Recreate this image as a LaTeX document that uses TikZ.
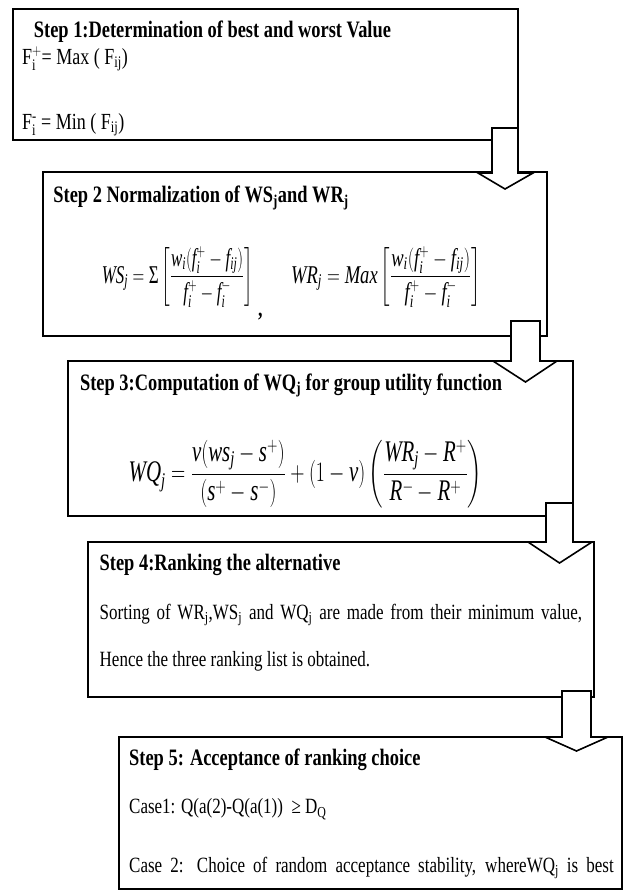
\documentclass[tikz,border=0pt]{standalone}
\usepackage{amsmath}
\usepackage{graphicx}
\usepackage{fontspec}
\setmainfont{Liberation Serif}
\newcommand{\mi}[1]{\mathit{#1}}
\newcommand{\vs}[1]{\scalebox{1}[1.28]{#1}}
\newcommand{\blockarrow}[8]{%
  \draw[blockarrow] (#1,#3) -- (#2,#3) -- (#2,#4) -- (#6,#4) -- (#7,#8) -- (#5,#4) -- (#1,#4) -- cycle;}
\begin{document}
\begin{tikzpicture}[x=1pt,y=-1pt,
  box/.style={draw=black, rectangle, inner sep=0pt, line width=1.8pt},
  ttl/.style={anchor=base west, inner sep=0pt, font=\fontsize{18.4}{20}\selectfont\bfseries},
  txt/.style={anchor=base west, inner sep=0pt, font=\fontsize{17}{20}\selectfont},
  eqn/.style={anchor=west, inner sep=0pt},
  blockarrow/.style={draw=black, fill=white, line width=1.6pt, line join=miter}]
\useasboundingbox (0,0) rectangle (625,892);

% boxes
\node[box, minimum width=505pt, minimum height=131pt] (b1) at (265.5,74.5) {};
\node[box, minimum width=504pt, minimum height=164pt] (b2) at (295,254) {};
\node[box, minimum width=505pt, minimum height=155pt] (b3) at (320.5,438.5) {};
\node[box, minimum width=506pt, minimum height=155pt] (b4) at (341,619.5) {};
\node[box, minimum width=503pt, minimum height=152pt] (b5) at (370.5,813) {};

% block arrows
\blockarrow{492}{518}{128}{173}{478}{533}{505}{189}
\blockarrow{511}{540}{321}{361}{493}{557}{525.5}{382}
\blockarrow{546}{573}{503}{542}{528}{592}{559.5}{563}
\blockarrow{562}{591}{691}{737}{545}{608}{576.5}{751}

% box 1
\node[ttl] (t1) at (33.7,37.5) {\vs{Step 1:Determination of best and worst Value}};
\node[txt, font=\fontsize{18}{20}\selectfont] (f1a) at (21.8,64) {\vs{$\mathrm{F}_{\mathrm{i}}^{+}$= Max ( F$_{\mathrm{ij}}$)}};
\node[txt, font=\fontsize{18}{20}\selectfont] (f1b) at (21.8,129.5) {\vs{$\mathrm{F}_{\mathrm{i}}^{\text{-}}$ = Min ( F$_{\mathrm{ij}}$)}};

% box 2
\node[ttl] (t2) at (53.2,202.8) {\vs{Step 2 Normalization of WS\textsubscript{j}and WR\textsubscript{j}}};
\node[eqn, font=\fontsize{18}{20}\selectfont] (e2a) at (101.7,277)
  {\scalebox{0.94}[1.42]{$\mi{WS}_{\mi{j}} = \text{Σ}\left[\dfrac{\mi{w}_{\mi{i}}(\mi{f}_{\mi{i}}^{+}-\mi{f}_{\mi{ij}})}{\mi{f}_{\mi{i}}^{+}-\mi{f}_{\mi{i}}^{-}}\right]$}};
\node[txt, font=\fontsize{18}{20}\selectfont\bfseries] (c2) at (258,316) {\vs{,}};
\node[eqn, font=\fontsize{18}{20}\selectfont] (e2b) at (291,277)
  {\scalebox{1.03}[1.42]{$\mi{WR}_{\mi{j}} = \mi{Max}\left[\dfrac{\mi{w}_{\mi{i}}(\mi{f}_{\mi{i}}^{+}-\mi{f}_{\mi{ij}})}{\mi{f}_{\mi{i}}^{+}-\mi{f}_{\mi{i}}^{-}}\right]$}};

% box 3
\node[ttl] (t3) at (79.9,390) {\vs{Step 3:Computation of WQ\textsubscript{j} for group utility function}};
\node[eqn, font=\fontsize{22}{24}\selectfont] (e3) at (128.5,474)
  {\scalebox{0.95}[1.36]{$\mi{WQ}_{\mi{j}} = \dfrac{\mi{v}(\mi{ws}_{\mi{j}}-\mi{s}^{+})}{(\mi{s}^{+}-\mi{s}^{-})} + (1-\mi{v})\left(\dfrac{\mi{WR}_{\mi{j}}-\mi{R}^{+}}{\mi{R}^{-}-\mi{R}^{+}}\right)$}};

% box 4
\node[ttl] (t4) at (99.5,570.6) {\vs{Step 4:Ranking the alternative}};
\node[txt] (l4a) at (99.5,619.5) {\vs{\makebox[482.5pt][s]{Sorting of WR\textsubscript{j},WS\textsubscript{j} and WQ\textsubscript{j} are made from their minimum value,}}};
\node[txt] (l4b) at (99.5,666.7) {\vs{Hence the three ranking list is obtained.}};

% box 5
\node[ttl] (t5) at (129,765.6) {\vs{Step 5: Acceptance of ranking choice}};
\node[txt] (l5a) at (129,813.8) {\vs{Case1: Q(a(2)-Q(a(1))\ \ ≥ D\textsubscript{Q}}};
\node[txt] (l5b) at (129,872) {\vs{\makebox[484.6pt][s]{Case 2: Choice of random acceptance stability, whereWQ\textsubscript{j} is best}}};
\end{tikzpicture}
\end{document}
